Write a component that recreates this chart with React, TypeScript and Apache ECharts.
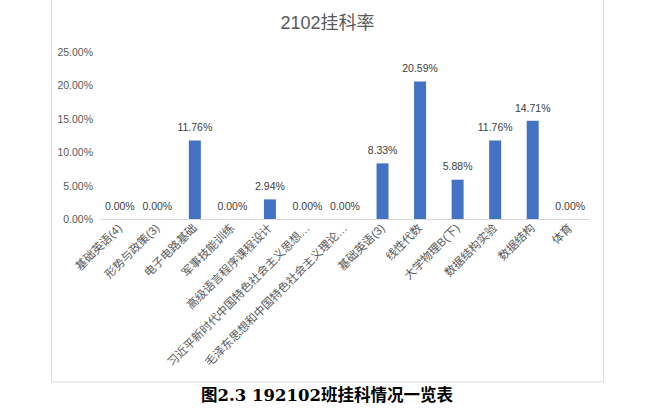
import React, { useEffect, useRef } from "react";
import * as echarts from "echarts";

const chartTitle = "2102挂科率";
const caption = "图2.3 192102班挂科情况一览表";
const categories = [
  "基础英语(4)",
  "形势与政策(3)",
  "电子电路基础",
  "军事技能训练",
  "高级语言程序课程设计",
  "习近平新时代中国特色社会主义思想概论",
  "毛泽东思想和中国特色社会主义理论体系概论",
  "基础英语(3)",
  "线性代数",
  "大学物理B(下)",
  "数据结构实验",
  "数据结构",
  "体育",
];
const failRates = [0, 0, 11.76, 0, 2.94, 0, 0, 8.33, 20.59, 5.88, 11.76, 14.71, 0];
const yMin = 0;
const yMax = 25;
const yStep = 5;

export default function App() {
  const ref = useRef<HTMLDivElement>(null);
  useEffect(() => {
    if (!ref.current) return;
    const chart = echarts.init(ref.current, null, { renderer: "svg" });
    const font = "Liberation Sans, Arial, 'Noto Sans CJK SC', sans-serif";
    chart.setOption({
      animation: false,
      backgroundColor: "#ffffff",
      title: {
        text: chartTitle,
        left: "center",
        top: 9,
        textStyle: { color: "#595959", fontSize: 18, fontWeight: "normal", fontFamily: font },
      },
      grid: { left: 101, right: 66, top: 52, bottom: 191, containLabel: false },
      xAxis: {
        type: "category",
        data: categories,
        axisLine: { lineStyle: { color: "#d9d9d9", width: 1 } },
        axisTick: { show: false },
        axisLabel: {
          interval: 0,
          rotate: 45,
          margin: 7,
          color: "#595959",
          fontSize: 11.5,
          fontFamily: font,
          formatter: (s: string) => (s.length > 17 ? s.slice(0, 16) + "…" : s),
        },
      },
      yAxis: {
        type: "value",
        min: yMin,
        max: yMax,
        interval: yStep,
        axisLine: { show: false },
        axisTick: { show: false },
        splitLine: { show: false },
        axisLabel: {
          color: "#595959",
          fontSize: 10.5,
          fontFamily: font,
          margin: 8,
          formatter: (v: number) => v.toFixed(2) + "%",
        },
      },
      series: [
        {
          type: "bar",
          data: failRates,
          barWidth: 12,
          itemStyle: { color: "#4472c4" },
          label: {
            show: true,
            position: "top",
            distance: 8,
            color: "#404040",
            fontSize: 10.5,
            fontFamily: font,
            formatter: (p: any) => Number(p.value).toFixed(2) + "%",
          },
        },
      ],
      graphic: [
        {
          type: "rect",
          shape: { x: 51.5, y: -5, width: 552, height: 387 },
          style: { fill: "none", stroke: "#d9d9d9", lineWidth: 1 },
          silent: true,
        },
        {
          type: "text",
          x: 327,
          y: 395,
          style: {
            text: caption,
            fill: "#000000",
            font: "bold 16.5px 'DejaVu Serif', 'Noto Sans CJK SC', serif",
            textAlign: "center",
            textVerticalAlign: "middle",
          },
        },
      ],
    });
    return () => chart.dispose();
  }, []);
  return (
    <div
      ref={ref}
      style={{ position: "fixed", left: 0, top: 0, width: 655, height: 410 }}
    />
  );
}
